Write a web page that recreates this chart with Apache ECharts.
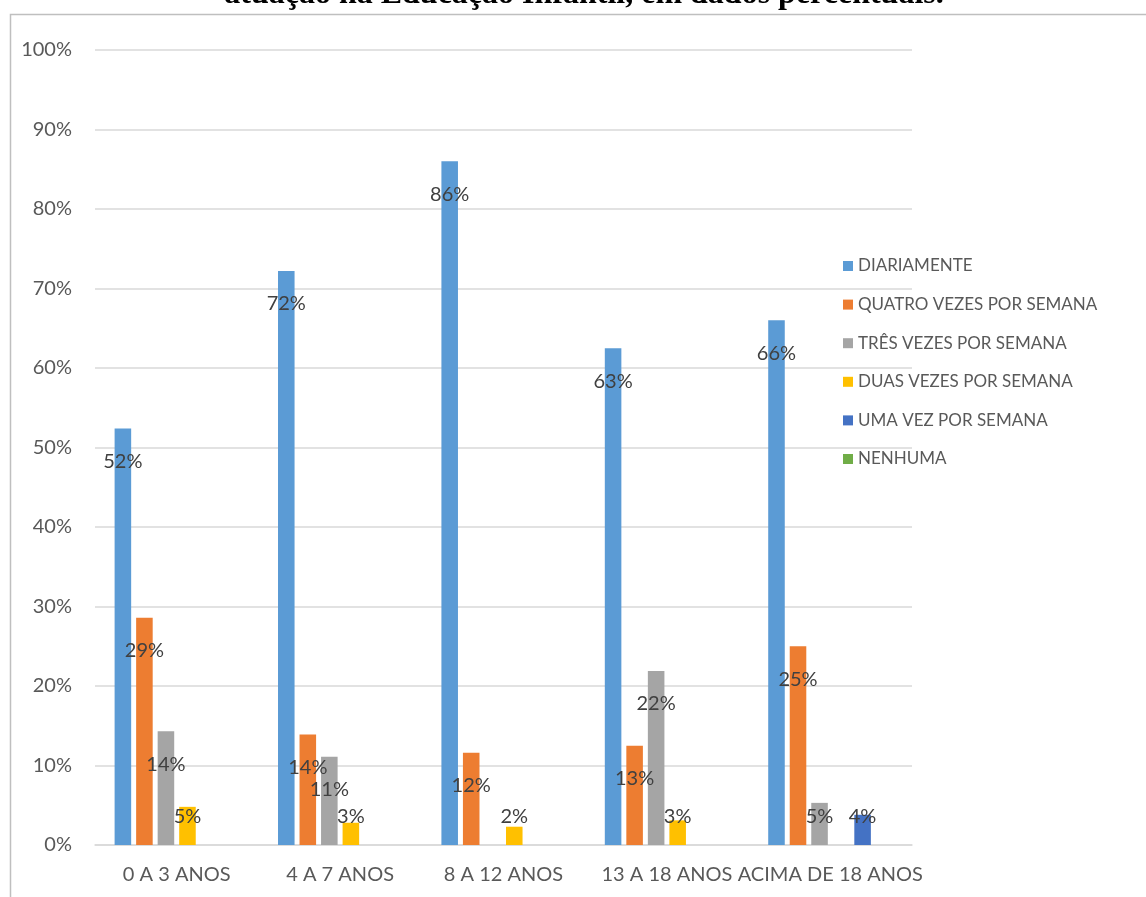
<!DOCTYPE html>
<html>
<head>
<meta charset="utf-8">
<script src="https://cdn.jsdelivr.net/npm/echarts@6/dist/echarts.min.js"></script>
<style>
  html, body { margin: 0; padding: 0; background: #ffffff; }
  #chart { width: 1146px; height: 897px; }
</style>
</head>
<body>
<div id="chart"></div>
<script>
// Faixas etárias atendidas
const categories = ['0 A 3 ANOS', '4 A 7 ANOS', '8 A 12 ANOS', '13 A 18 ANOS', 'ACIMA DE 18 ANOS'];

// Frequência semanal (%) por faixa etária
const diariamente = [52.4, 72.2, 86.0, 62.5, 66.0];
const quatroVezes = [28.6, 13.9, 11.6, 12.5, 25.0];
const tresVezes   = [14.3, 11.1, null, 21.9, 5.3];
const duasVezes   = [4.8, 2.8, 2.3, 3.1, null];
const umaVez      = [null, null, null, null, 3.8];
const nenhuma     = [null, null, null, null, null];

const seriesNames = ['DIARIAMENTE', 'QUATRO VEZES POR SEMANA', 'TRÊS VEZES POR SEMANA',
                     'DUAS VEZES POR SEMANA', 'UMA VEZ POR SEMANA', 'NENHUMA'];
const seriesValues = [diariamente, quatroVezes, tresVezes, duasVezes, umaVez, nenhuma];
const colors = ['#5B9BD5', '#ED7D31', '#A5A5A5', '#FFC000', '#4472C4', '#70AD47'];

const titleText = 'atuação na Educação Infantil, em dados percentuais.';
const FONT = 'Lato, "Open Sans", sans-serif';

// short bars keep their label just above the baseline
function toItems(values) {
  return values.map(function (v) {
    if (v == null) return null;
    if (v < 7.5) {
      return { value: v, label: { position: 'insideBottom', distance: 16 } };
    }
    return v;
  });
}

const chart = echarts.init(document.getElementById('chart'), null, { renderer: 'canvas' });

chart.setOption({
  backgroundColor: '#ffffff',
  animation: false,
  color: colors,
  graphic: [
    {
      type: 'rect',
      left: 8, top: 12,
      shape: { width: 1300, height: 1000 },
      style: { fill: 'none', stroke: '#bfbfbf', lineWidth: 1.5 },
      z: -1
    },
    {
      type: 'text',
      x: 584, y: -5.5,
      style: {
        text: titleText,
        font: 'bold 32px "Liberation Serif", "Times New Roman", serif',
        fill: '#000000',
        align: 'center',
        verticalAlign: 'middle'
      }
    }
  ],
  legend: {
    orient: 'vertical',
    left: 843,
    top: 256,
    padding: 0,
    itemWidth: 10,
    itemHeight: 10,
    itemGap: 18.6,
    icon: 'rect',
    textStyle: { fontFamily: FONT, fontSize: 17, color: '#595959', lineHeight: 20 },
    data: seriesNames
  },
  grid: { left: 95, right: 234, top: 50, bottom: 52, containLabel: false },
  xAxis: {
    type: 'category',
    data: categories,
    axisLine: { show: true, lineStyle: { color: '#d9d9d9', width: 1.5 } },
    axisTick: { show: false },
    axisLabel: { interval: 0, margin: 20, fontFamily: FONT, fontSize: 20, color: '#595959' }
  },
  yAxis: {
    type: 'value',
    min: 0, max: 100, interval: 10,
    axisLine: { show: false },
    axisTick: { show: false },
    axisLabel: { formatter: '{value}%', margin: 23, fontFamily: FONT, fontSize: 20, color: '#595959' },
    splitLine: { lineStyle: { color: '#d9d9d9', width: 1.5 } }
  },
  series: seriesNames.map(function (name, i) {
    return {
      name: name,
      type: 'bar',
      barGap: '30%',
      barCategoryGap: '24%',
      data: toItems(seriesValues[i]),
      label: {
        show: true,
        position: 'insideTop',
        distance: 21,
        lineHeight: 24,
        fontFamily: FONT,
        fontSize: 20,
        color: '#404040',
        formatter: function (p) { return Math.round(p.value) + '%'; }
      }
    };
  })
});
</script>
</body>
</html>
